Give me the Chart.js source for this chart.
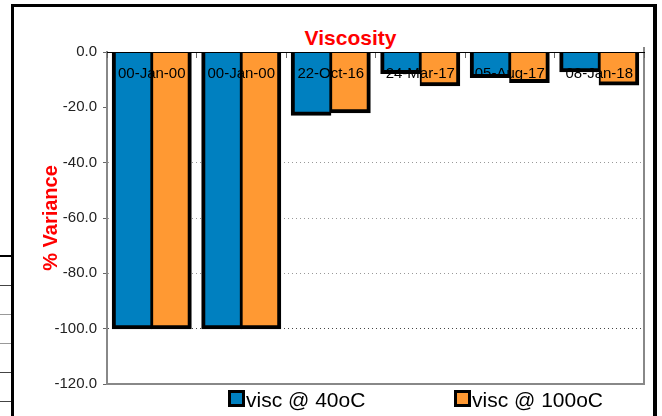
<!DOCTYPE html>
<html>
<head>
<meta charset="utf-8">
<script src="https://cdn.jsdelivr.net/npm/chart.js@4.4.0/dist/chart.umd.min.js"></script>
<style>
  html, body { margin: 0; padding: 0; background: #fff; }
  body { width: 662px; height: 416px; position: relative; overflow: hidden; font-family: "Liberation Sans", Arial, sans-serif; }
  #frame { position: absolute; left: 11px; top: 4px; width: 639px; height: 440px; border-left: 3px solid #000; border-top: 3px solid #000; border-right: 4px solid #000; }
  .row { position: absolute; left: 0; width: 11px; height: 1px; background: #444; }
  #chartTitle { position: absolute; left: 0; top: 28px; width: 701px; text-align: center; color: #f00; font-weight: bold; font-size: 21px; line-height: 20px; }
  .legend { position: absolute; top: 390px; font-size: 21px; line-height: 20px; color: #000; white-space: nowrap; }
  .legend i { position: absolute; left: -18px; top: 0; width: 17px; height: 17px; box-sizing: border-box; border: 3px solid #000; }
  canvas { position: absolute; left: 0; top: 0; }
</style>
</head>
<body>
<div id="frame"></div>
<div class="row" style="top:255px;height:2px;background:#000"></div>
<div class="row" style="top:285px"></div>
<div class="row" style="top:314px;background:#999"></div>
<div class="row" style="top:343px;background:#999"></div>
<div class="row" style="top:372px"></div>
<div class="row" style="top:401px"></div>
<div id="chartTitle">Viscosity</div>
<canvas id="chart" width="662" height="416"></canvas>
<div id="legend"></div>
<script>
// data
const categories = ['00-Jan-00', '00-Jan-00', '22-Oct-16', '24-Mar-17', '05-Aug-17', '08-Jan-18'];
const visc40 = [-100, -100, -22.8, -7.7, -9.2, -7.1];
const visc100 = [-100, -100, -21.9, -12.2, -11.0, -11.9];
const yTicks = [0, -20, -40, -60, -80, -100, -120];

const FONT = '"Liberation Sans", Arial, sans-serif';

// grey box round the plot (right and bottom side, left side is the y border)
const plotFrame = {
    id: 'plotFrame',
    beforeDatasetsDraw(chart) {
        const { ctx, chartArea: a } = chart;
        ctx.save();
        ctx.strokeStyle = '#888';
        ctx.lineWidth = 2;
        ctx.beginPath();
        ctx.moveTo(a.left, a.bottom);
        ctx.lineTo(a.right, a.bottom);
        ctx.lineTo(a.right, a.top - 5);
        ctx.stroke();
        ctx.restore();
    }
};

const barStyle = { borderColor: '#000', borderSkipped: 'start', categoryPercentage: 0.88, barPercentage: 1, inflateAmount: 0.6 };
const datasets = [
    { ...barStyle, label: 'visc @ 40oC', data: visc40, backgroundColor: '#0080C0',
      borderWidth: { left: 4, right: 2, bottom: 4, top: 0 } },
    { ...barStyle, label: 'visc @ 100oC', data: visc100, backgroundColor: '#FF9933',
      borderWidth: { left: 2, right: 4, bottom: 4, top: 0 } },
];

const chart = new Chart(document.getElementById('chart').getContext('2d'), {
    type: 'bar',
    data: { labels: categories, datasets },
    plugins: [plotFrame],
    options: {
        responsive: false,
        animation: false,
        layout: { padding: { left: 14, top: 52, right: 18, bottom: 32 } },
        plugins: {
            legend: { display: false },
            tooltip: { enabled: false },
            title: { display: false },
        },
        scales: {
            x: {
                position: { y: 0 },
                offset: true,
                // labels sit inside the plot, on top of the bars
                grid: { offset: true, drawOnChartArea: false, tickLength: 5, tickColor: '#666', z: 1 },
                border: { display: true, color: '#000', width: 1, z: 1 },
                ticks: { color: '#000', padding: 8, z: 1, font: { family: FONT, size: 15 } },
            },
            y: {
                min: -120,
                max: 0,
                afterBuildTicks: s => { s.ticks = yTicks.map(v => ({ value: v })); },
                afterFit: s => { s.width = 93; },
                ticks: {
                    color: '#222',
                    padding: 6,
                    font: { family: FONT, size: 15 },
                    callback: v => v.toFixed(1),
                },
                grid: {
                    tickLength: 4,
                    tickColor: '#666',
                    color: ctx => {
                        const v = ctx.tick && ctx.tick.value;
                        if (v === 0 || v === -20 || v === -120) return 'rgba(0,0,0,0)';
                        return v === -100 ? '#444' : '#999';
                    },
                },
                border: { display: true, color: '#888', width: 2, dash: [1, 3] },
                title: {
                    display: true,
                    text: '% Variance',
                    color: '#f00',
                    font: { family: FONT, size: 20, weight: 'bold' },
                    padding: { top: 25, bottom: 0 },
                },
            },
        },
    },
});

// html legend, built from the datasets
const legendX = [246, 472];
const legendEl = document.getElementById('legend');
chart.data.datasets.forEach((d, i) => {
    const item = document.createElement('div');
    item.className = 'legend';
    item.style.left = legendX[i] + 'px';
    item.innerHTML = '<i style="background:' + d.backgroundColor + '"></i>' + d.label;
    legendEl.appendChild(item);
});
</script>
</body>
</html>
